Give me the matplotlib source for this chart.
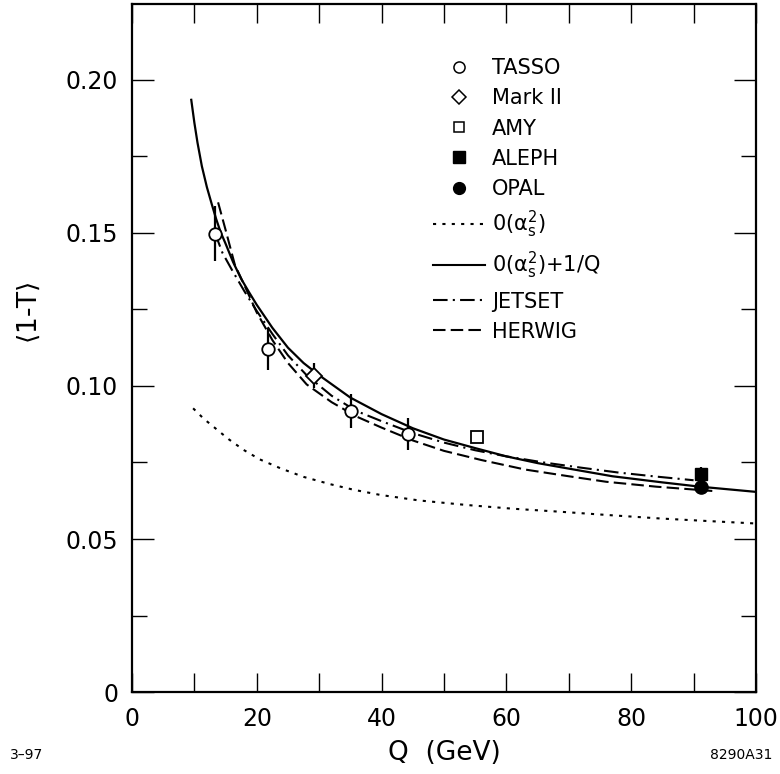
import numpy as np
import matplotlib
matplotlib.use("Agg")
import matplotlib.pyplot as plt
from matplotlib.lines import Line2D
from matplotlib.ticker import MultipleLocator

plt.rcParams["font.family"] = ["DejaVu Sans"]
plt.rcParams["mathtext.fontset"] = "dejavusans"

# data points
tasso_q = [13.3, 21.8, 35.1, 44.2]
tasso_t = [0.1497, 0.1120, 0.0919, 0.0843]
tasso_err = [0.0090, 0.0068, 0.0055, 0.0052]

mark2_q = [29.2]
mark2_t = [0.1034]
mark2_err = [0.0042]

amy_q = [55.3]
amy_t = [0.0834]

aleph_q = [91.2]
aleph_t = [0.0712]
aleph_err = [0.0024]

opal_q = [91.2]
opal_t = [0.0670]

# curves
oas2_q = [9.8, 11.5, 13.05, 15.5, 17.9, 20.5, 23.8, 27.5, 31.8, 35.5, 39.8, 46, 53.7, 61, 68.7, 76.5, 84.7, 92, 99.7]
oas2_t = [0.0927, 0.0893, 0.0867, 0.0826, 0.0791, 0.0760, 0.0731, 0.0703, 0.0679, 0.0661, 0.0644, 0.0626, 0.0611, 0.0599, 0.0589, 0.0578, 0.0567, 0.0559, 0.0551]

power_q = [9.5, 10.0, 10.5, 11.2, 12, 12.8, 13.5, 14.2, 15, 16.2, 17.5, 18.8, 20, 22.5, 25, 27.5, 30, 35, 40, 45, 50, 55, 60, 65, 70, 77, 85, 91, 100]
power_t = [0.1935, 0.1860, 0.1795, 0.1718, 0.1650, 0.1593, 0.1545, 0.1503, 0.1465, 0.1405, 0.1350, 0.1305, 0.1265, 0.1190, 0.1125, 0.1075, 0.1035, 0.0962, 0.0908, 0.0862, 0.0825, 0.0797, 0.0770, 0.0748, 0.0730, 0.0705, 0.0685, 0.0671, 0.0654]

jetset_q = [13.3, 14.5, 16, 18, 20, 22.5, 25, 28, 32, 36, 40, 45, 50, 55, 60, 66, 72, 78, 84, 90]
jetset_t = [0.1500, 0.1435, 0.1380, 0.1310, 0.1245, 0.1170, 0.1100, 0.1035, 0.0968, 0.0918, 0.0885, 0.0846, 0.0815, 0.0790, 0.0770, 0.0750, 0.0733, 0.0717, 0.0704, 0.0692]

herwig_q = [13.8, 15, 16.5, 18, 20, 22.5, 25, 28, 32, 36, 40, 45, 50, 56, 63, 70, 76, 84, 93]
herwig_t = [0.1600, 0.1510, 0.1395, 0.1330, 0.1240, 0.1150, 0.1075, 0.1005, 0.0947, 0.0900, 0.0864, 0.0822, 0.0788, 0.0758, 0.0727, 0.0705, 0.0687, 0.0671, 0.0657]

fig = plt.figure(figsize=(7.8, 7.74), dpi=100)
ax = fig.add_axes([0.1692, 0.1059, 0.8, 0.8889])

lw = 1.5
dotted = (0, (1.5, 3))
dashdot = (0, (7, 2.5, 1, 2.5))
dashed = (0, (6, 2.5))
ax.plot(oas2_q, oas2_t, color="k", lw=lw, ls=dotted)
ax.plot(power_q, power_t, color="k", lw=1.6, ls="-")
ax.plot(jetset_q, jetset_t, color="k", lw=lw, ls=dashdot)
ax.plot(herwig_q, herwig_t, color="k", lw=lw, ls=dashed)

# error bars
ax.errorbar(tasso_q, tasso_t, yerr=tasso_err, fmt="none", ecolor="k", elinewidth=1.6, capsize=0, zorder=4)
ax.errorbar(mark2_q, mark2_t, yerr=mark2_err, fmt="none", ecolor="k", elinewidth=1.6, capsize=0, zorder=4)
ax.errorbar(aleph_q, aleph_t, yerr=aleph_err, fmt="none", ecolor="k", elinewidth=1.6, capsize=0, zorder=4)

ax.plot(tasso_q, tasso_t, "o", ms=9, mfc="white", mec="k", mew=1.3, zorder=5)
ax.plot(mark2_q, mark2_t, "D", ms=8, mfc="white", mec="k", mew=1.3, zorder=5)
ax.plot(amy_q, amy_t, "s", ms=8.5, mfc="white", mec="k", mew=1.3, zorder=5)
ax.plot(aleph_q, aleph_t, "s", ms=9, mfc="k", mec="k", zorder=5)
ax.plot(opal_q, opal_t, "o", ms=9.5, mfc="k", mec="k", zorder=5)

ax.set_xlim(0, 100)
ax.set_ylim(0, 0.2248)
ax.xaxis.set_minor_locator(MultipleLocator(10))
ax.yaxis.set_minor_locator(MultipleLocator(0.025))
ax.set_xticks([0, 20, 40, 60, 80, 100])
ax.set_xticklabels(["0", "20", "40", "60", "80", "100"])
ax.set_yticks([0, 0.05, 0.10, 0.15, 0.20])
ax.set_yticklabels(["0", "0.05", "0.10", "0.15", "0.20"])

ax.tick_params(which="both", direction="in", top=True, right=True, width=1.0, labelsize=17)
ax.tick_params(axis="y", which="major", length=16, pad=10)
ax.tick_params(axis="y", which="minor", length=11)
ax.tick_params(axis="x", which="major", length=14, pad=11)
ax.tick_params(axis="x", which="minor", length=14)
for s in ax.spines.values():
    s.set_linewidth(1.6)

ax.set_xlabel("Q  (GeV)", fontsize=19, labelpad=6)
ax.set_ylabel(r"$\langle$1-T$\rangle$", fontsize=19)
ax.yaxis.set_label_coords(-0.143, 0.552)

handles = [
    Line2D([], [], ls="none", marker="o", ms=8, mfc="white", mec="k", mew=1.1),
    Line2D([], [], ls="none", marker="D", ms=7, mfc="white", mec="k", mew=1.1),
    Line2D([], [], ls="none", marker="s", ms=7, mfc="white", mec="k", mew=1.1),
    Line2D([], [], ls="none", marker="s", ms=8, mfc="k", mec="k"),
    Line2D([], [], ls="none", marker="o", ms=8.5, mfc="k", mec="k"),
    Line2D([], [], color="k", lw=lw, ls=dotted),
    Line2D([], [], color="k", lw=lw, ls="-"),
    Line2D([], [], color="k", lw=lw, ls=dashdot),
    Line2D([], [], color="k", lw=lw, ls=dashed),
]
labels = ["TASSO", "Mark II", "AMY", "ALEPH", "OPAL",
          r"0(α$_{\rm s}^{2}$)", r"0(α$_{\rm s}^{2}$)+1/Q", "JETSET", "HERWIG"]
ax.legend(handles, labels, loc="upper left", bbox_to_anchor=(0.483, 0.921),
          frameon=False, fontsize=15, handlelength=2.5, handletextpad=0.3,
          labelspacing=0.485, borderpad=0, borderaxespad=0)

fig.text(0.013, 0.02, "3–97", fontsize=10)
fig.text(0.99, 0.02, "8290A31", fontsize=10, ha="right")

fig.savefig("out.png", dpi=100)
